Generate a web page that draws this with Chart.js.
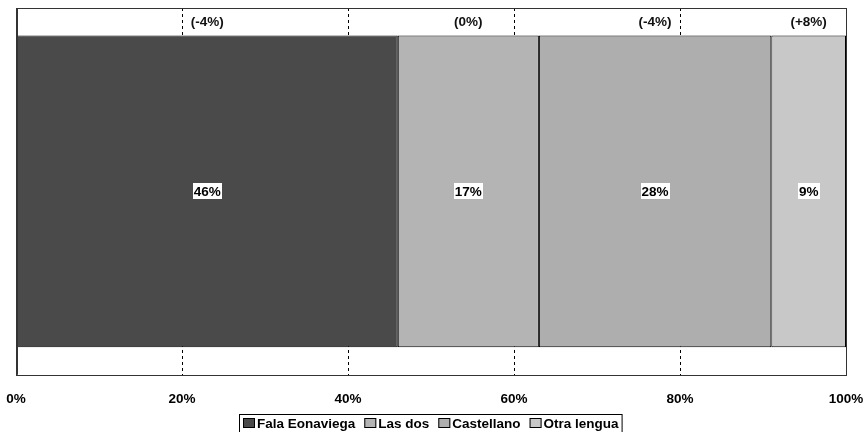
<!DOCTYPE html>
<html>
<head>
<meta charset="utf-8">
<script src="https://cdn.jsdelivr.net/npm/chart.js@4/dist/chart.umd.min.js"></script>
<style>
  html, body { margin: 0; padding: 0; background: #fff; }
  #wrap { width: 866px; height: 432px; }
</style>
</head>
<body>
<div id="wrap"><canvas id="c" width="866" height="432"></canvas></div>
<script>
// Single 100% stacked bar: language shares and change since the previous survey
const categories = [''];
const seriesNames = ['Fala Eonaviega', 'Las dos', 'Castellano', 'Otra lengua'];
const shares = [46, 17, 28, 9];
const changes = ['(-4%)', '(0%)', '(-4%)', '(+8%)'];
const xTicks = [0, 20, 40, 60, 80, 100];
const colors = ['#4a4a4a', '#b4b4b4', '#aeaeae', '#c8c8c8'];

const FAMILY = '"Liberation Sans", Arial, sans-serif';
const SIZE = 13.5;
const FONT = 'bold ' + SIZE + 'px ' + FAMILY;

// Value labels inside segments (white box) and change labels above them
const segmentLabels = {
  id: 'segmentLabels',
  afterDatasetsDraw(chart) {
    const ctx = chart.ctx;
    const area = chart.chartArea;
    ctx.save();
    ctx.font = FONT;
    ctx.textAlign = 'center';
    ctx.textBaseline = 'middle';
    chart.data.datasets.forEach((ds, i) => {
      const bar = chart.getDatasetMeta(i).data[0];
      const cx = (bar.x + bar.base) / 2;
      const cy = bar.y;
      const txt = ds.data[0] + '%';
      const w = ctx.measureText(txt).width;
      ctx.fillStyle = '#fff';
      ctx.fillRect(Math.round(cx - w / 2 - 1), Math.round(cy - 8), Math.round(w + 2), 16);
      ctx.fillStyle = '#000';
      ctx.fillText(txt, cx, cy + 0.5);
      ctx.fillStyle = '#111';
      ctx.fillText(changes[i], cx, area.top + 14);
    });
    ctx.restore();
  }
};

// Frame round the plot area
const plotFrame = {
  id: 'plotFrame',
  afterDraw(chart) {
    const ctx = chart.ctx;
    const a = chart.chartArea;
    ctx.save();
    ctx.strokeStyle = '#333';
    ctx.lineWidth = 1;
    ctx.strokeRect(Math.round(a.left) + 0.5, Math.round(a.top) + 0.5,
                   Math.round(a.right - a.left), Math.round(a.bottom - a.top));
    ctx.beginPath();
    ctx.moveTo(Math.round(a.left) + 1.5, a.top);
    ctx.lineTo(Math.round(a.left) + 1.5, a.bottom);
    ctx.stroke();
    ctx.restore();
  }
};

// Boxed legend along the bottom edge
const boxedLegend = {
  id: 'boxedLegend',
  afterDraw(chart) {
    const ctx = chart.ctx;
    ctx.save();
    ctx.font = FONT;
    ctx.textBaseline = 'middle';
    ctx.textAlign = 'left';
    const boxW = 12, boxH = 10, gap = 2, spacing = 9;
    const items = chart.data.datasets.map(ds => ({
      label: ds.label, color: ds.backgroundColor, tw: ctx.measureText(ds.label).width
    }));
    const total = items.reduce((s, it) => s + boxW + gap + it.tw, 0) + spacing * (items.length - 1);
    let x = Math.round(chart.width / 2 - total / 2) - 2;
    const top = 414;
    const cy = 423;
    ctx.strokeStyle = '#000';
    ctx.lineWidth = 1;
    ctx.strokeRect(x - 3.5, top + 0.5, total + 7, 24);
    items.forEach(it => {
      ctx.fillStyle = it.color;
      ctx.fillRect(x, cy - boxH / 2, boxW, boxH);
      ctx.strokeStyle = '#000';
      ctx.strokeRect(x + 0.5, cy - boxH / 2 + 0.5, boxW - 1, boxH - 1);
      ctx.fillStyle = '#000';
      ctx.fillText(it.label, x + boxW + gap, cy + 1);
      x += boxW + gap + it.tw + spacing;
    });
    ctx.restore();
  }
};

new Chart(document.getElementById('c'), {
  type: 'bar',
  data: {
    labels: categories,
    datasets: seriesNames.map((name, i) => ({
      label: name,
      data: [shares[i]],
      backgroundColor: colors[i],
      borderColor: '#000',
      borderWidth: 1,
      borderSkipped: false
    }))
  },
  options: {
    indexAxis: 'y',
    responsive: false,
    animation: false,
    events: [],
    layout: { padding: { left: 16, right: 20, top: 8, bottom: 9 } },
    datasets: { bar: { categoryPercentage: 1, barPercentage: 0.85 } },
    scales: {
      x: {
        stacked: true,
        min: 0,
        max: 100,
        afterBuildTicks(scale) { scale.ticks = xTicks.map(v => ({ value: v })); },
        afterFit(scale) { scale.paddingLeft = 0; scale.paddingRight = 0; },
        ticks: {
          callback: v => v + '%',
          color: '#000',
          font: { family: FAMILY, size: SIZE, weight: 'bold' },
          padding: 16,
          maxRotation: 0
        },
        grid: {
          drawTicks: false,
          color: ctx => (ctx.tick && (ctx.tick.value === 0 || ctx.tick.value === 100)) ? 'rgba(0,0,0,0)' : '#000',
          lineWidth: 1
        },
        border: { display: false, dash: [3, 3] }
      },
      y: {
        display: false,
        stacked: true
      }
    },
    plugins: {
      legend: { display: false },
      tooltip: { enabled: false }
    }
  },
  plugins: [segmentLabels, plotFrame, boxedLegend]
});
</script>
</body>
</html>
